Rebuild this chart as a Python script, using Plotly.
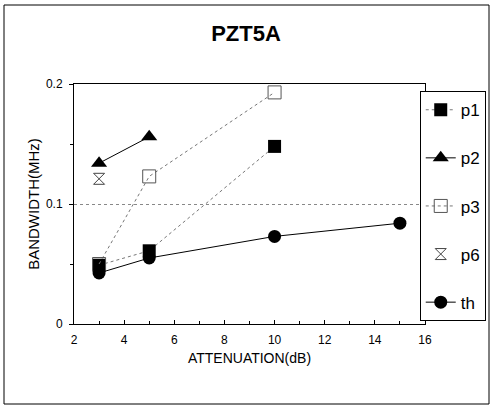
import plotly.graph_objects as go

# attenuation (dB) vs bandwidth (MHz)
p1_x = [3, 5, 10]
p1_y = [0.049, 0.061, 0.148]
p2_x = [3, 5]
p2_y = [0.134, 0.156]
p3_x = [3, 5, 10]
p3_y = [0.050, 0.123, 0.193]
p6_x = [3]
p6_y = [0.121]
th_x = [3, 5, 10, 15]
th_y = [0.0425, 0.055, 0.073, 0.084]

x_ticks = [2, 4, 6, 8, 10, 12, 14, 16]
y_ticks = [0, 0.1, 0.2]
y_labels = ["0", "0.1", "0.2"]

FONT = "Liberation Sans, Arial, sans-serif"

fig = go.Figure()
fig.add_trace(go.Scatter(x=p1_x, y=p1_y, name="p1", legendgroup="p1", mode="lines+markers",
                         line=dict(color="#777", width=1, dash="dot"),
                         marker=dict(symbol="square", size=13, color="black")))
fig.add_trace(go.Scatter(x=p2_x, y=p2_y, name="p2", legendgroup="p2", mode="lines+markers",
                         line=dict(color="black", width=1),
                         marker=dict(symbol="triangle-up", size=14, color="black")))
fig.add_trace(go.Scatter(x=p3_x, y=p3_y, name="p3", legendgroup="p3", mode="lines+markers",
                         line=dict(color="#777", width=1, dash="dot"),
                         marker=dict(symbol="square-open", size=13, color="#555",
                                     line=dict(width=1))))
fig.add_trace(go.Scatter(x=p6_x, y=p6_y, name="p6", legendgroup="p6", mode="markers",
                         marker=dict(symbol="hourglass-open", size=11, color="#444",
                                     line=dict(width=1))))
fig.add_trace(go.Scatter(x=th_x, y=th_y, name="th", legendgroup="th", mode="lines+markers",
                         line=dict(color="black", width=1),
                         marker=dict(symbol="circle", size=13, color="black")))

fig.update_layout(
    width=492, height=412,
    margin=dict(l=74, r=67, t=84, b=88, autoexpand=False),
    paper_bgcolor="white", plot_bgcolor="white",
    font=dict(family=FONT, color="black", size=12),
    title=dict(text="<b>PZT5A</b>", x=0.5, xanchor="center", xref="container",
               y=1 - 33 / 412, yanchor="middle", yref="container",
               font=dict(size=22, family=FONT)),
    showlegend=True,
    legend=dict(x=0.985, y=0.97, xanchor="left", yanchor="top",
                bordercolor="black", borderwidth=1, bgcolor="white",
                font=dict(size=17, family=FONT), tracegroupgap=23,
                traceorder="grouped", itemwidth=30),
)
fig.update_xaxes(range=[2, 16], tickvals=x_ticks, showgrid=False,
                 showline=True, linecolor="black", linewidth=1, mirror=True,
                 ticks="inside", ticklen=4, tickcolor="black", ticklabelstandoff=5,
                 minor=dict(dtick=1, ticks="inside", ticklen=3, tickcolor="black"),
                 zeroline=False, tickfont=dict(size=12),
                 title=dict(text="ATTENUATION(dB)", font=dict(size=14), standoff=6))
fig.update_yaxes(range=[0, 0.2], tickvals=y_ticks, ticktext=y_labels,
                 showgrid=True, gridcolor="#888", griddash="dot", gridwidth=1,
                 showline=True, linecolor="black", linewidth=1, mirror=True,
                 ticks="outside", ticklen=4, tickcolor="black", ticklabelstandoff=4,
                 minor=dict(dtick=0.05, ticks="outside", ticklen=3, tickcolor="black",
                            showgrid=False),
                 zeroline=False, tickfont=dict(size=12),
                 title=dict(text="BANDWIDTH(MHz)", font=dict(size=15), standoff=2))

# outer chart frame
fig.add_shape(type="rect", xref="paper", yref="paper",
              x0=(4 - 74) / 351, x1=(489 - 74) / 351,
              y0=(324 - 404) / 240, y1=(324 - 5) / 240,
              line=dict(color="black", width=1), layer="below")

fig.write_html("out.html", config={"displayModeBar": False},
               post_script="document.body.style.margin='0';")
